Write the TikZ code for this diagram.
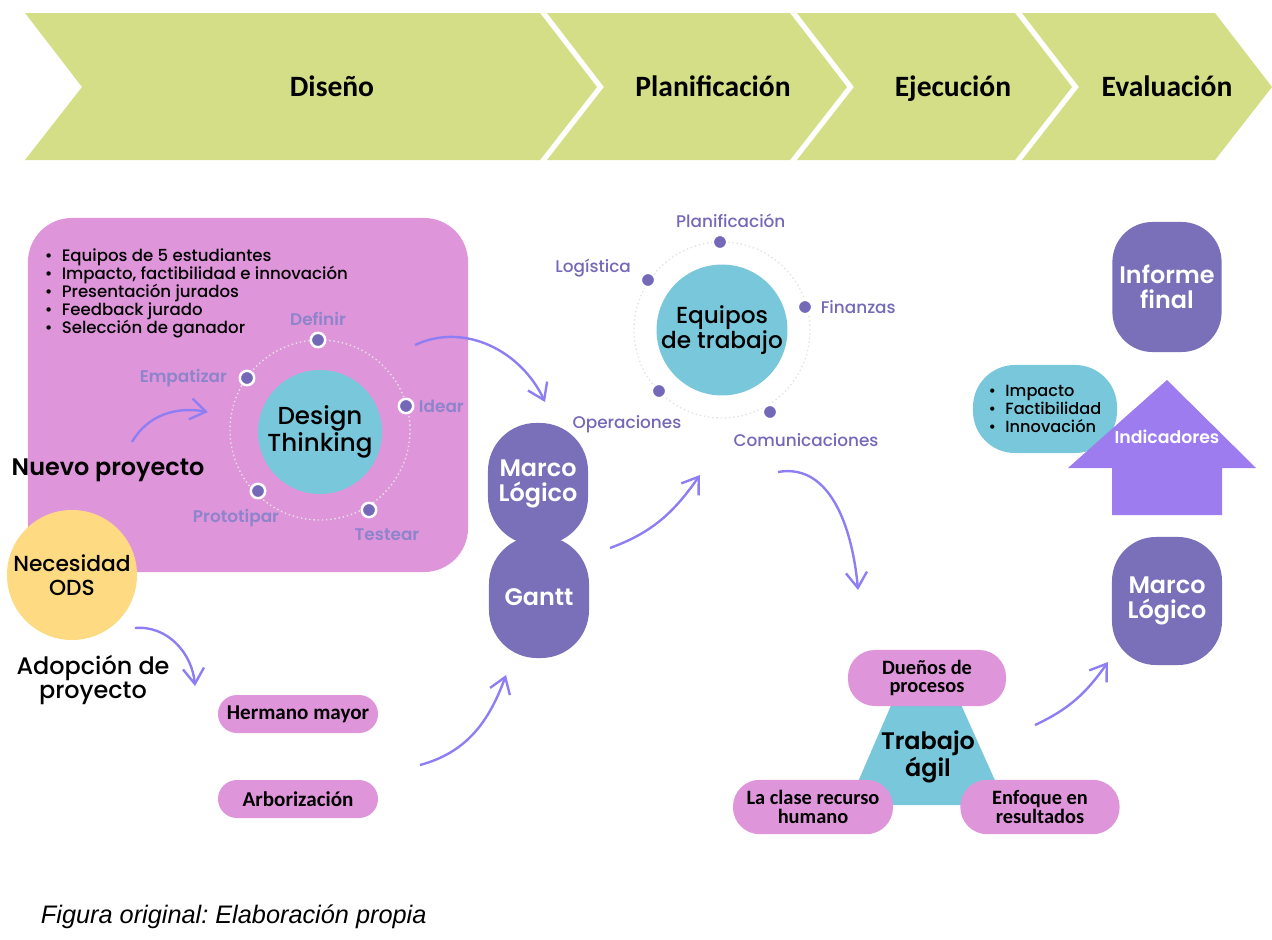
\documentclass[tikz,border=0pt]{standalone}
\usepackage{fontspec}
\setmainfont{Poppins}[UprightFont=* Medium,BoldFont=* SemiBold]
\newfontfamily\calib{Carlito}
\newfontfamily\arial{Liberation Sans}
\usetikzlibrary{positioning,arrows.meta}

\definecolor{banner}{HTML}{D3DE86}
\definecolor{pinkbox}{HTML}{DF95DA}
\definecolor{cyanfill}{HTML}{79C7DA}
\definecolor{deeppurple}{HTML}{7A6FB9}
\definecolor{violet}{HTML}{9D7CF0}
\definecolor{arrowcol}{HTML}{8D7EF3}
\definecolor{dotcol}{HTML}{7468B8}
\definecolor{softlbl}{HTML}{8E84CC}
\definecolor{sunny}{HTML}{FEDB82}

\newcommand\itm{\makebox[0.42cm][l]{\textbullet}}

\tikzset{
  stagetxt/.style={anchor=base, font=\calib\bfseries\fontsize{21}{22}\selectfont},
  panel/.style={fill=pinkbox, rounded corners=1.1cm, minimum width=11cm, minimum height=8.85cm},
  hub/.style={circle, fill=cyanfill, align=center, inner sep=0pt},
  orbit/.style={draw=gray!22, dotted, line width=1pt},
  orbdot/.style={circle, fill=dotcol, draw=white, line width=1.8pt, inner sep=0pt, minimum size=0.36cm},
  dtlbl/.style={text=softlbl, font=\bfseries\fontsize{12}{13}\selectfont, inner sep=1pt},
  eqlbl/.style={text=dotcol, font=\fontsize{12}{13}\selectfont, inner sep=1pt},
  big/.style={align=center, font=\fontsize{17}{17}\selectfont},
  sun/.style={circle, fill=sunny, align=center, minimum size=3.25cm, inner sep=0pt, font=\fontsize{15.5}{17}\selectfont},
  tag/.style={fill=pinkbox, rounded corners=0.475cm, minimum width=4cm, minimum height=0.95cm, align=center,
    font=\calib\bfseries\fontsize{15}{13}\selectfont},
  duo/.style={tag, minimum width=4cm, minimum height=1.36cm, rounded corners=0.67cm,
    font=\calib\bfseries\fontsize{14.5}{13}\selectfont},
  block/.style={fill=deeppurple, text=white, rounded corners=1.2cm, minimum width=2.5cm, minimum height=3.05cm,
    align=center, font=\bfseries\fontsize{17}{17.5}\selectfont},
  flow/.style={color=arrowcol, line width=1.7pt, -{Straight Barb[length=11pt,width=15pt]}}
}

\begin{document}
\begin{tikzpicture}[x=0.025cm,y=0.025cm]
  \useasboundingbox (0,0) rectangle (1272,-940);

  % stages
  \foreach \a/\b/\c/\t [count=\i] in {25/540/332/Diseño, 547/790/713/Planificación,
      797/1015/953/Ejecución, 1022/1215/1167/Evaluación}{
    \fill[banner] (\a,-13) -- (\b,-13) -- (\b+57,-87) -- (\b,-160) -- (\a,-160) -- (\a+57,-87) -- cycle;
    \node[stagetxt] (stage\i) at (\c,-96) {\t};
  }

  % design
  \node[panel] (dtbox) at (248,-395) {};
  \node[anchor=west, align=left, font=\fontsize{11.8}{12.8}\selectfont] (rules) at (40,-293)
    {\itm Equipos de 5 estudiantes\\ \itm Impacto, factibilidad e innovación\\ \itm Presentación jurados\\
     \itm Feedback jurado\\ \itm Selección de ganador};
  \draw[orbit] (320,-430) circle (2.25cm);
  \node[hub, minimum size=3.1cm, font=\fontsize{17.5}{17.5}\selectfont] (dt) at (320,-432) {Design\\Thinking};
  \node[orbdot] (def) at (318,-340) {};
  \node[orbdot] (emp) at (247,-378) {};
  \node[orbdot] (ide) at (406,-406) {};
  \node[orbdot] (pro) at (258,-491) {};
  \node[orbdot] (tes) at (369,-510) {};
  \node[dtlbl, above=3pt of def] {Definir};
  \node[dtlbl, left=7pt of emp] {Empatizar};
  \node[dtlbl, right=2pt of ide] {Idear};
  \node[dtlbl, below=6pt of pro, xshift=-0.55cm] {Prototipar};
  \node[dtlbl, below=6pt of tes, xshift=0.45cm] {Testear};

  \node[big, font=\bfseries\fontsize{17}{17}\selectfont] (nuevo) at (108,-470) {Nuevo proyecto};
  \node[sun] (ods) at (72,-575) {Necesidad\\ODS};
  \node[big] (adop) at (93,-680) {Adopción de\\proyecto};
  \node[tag] (hermano) at (298,-714) {Hermano mayor};
  \node[tag] (arbol) at (298,-799) {Arborización};

  % planning
  \node[block] (gantt) at (539,-597) {Gantt};
  \node[block] (marco) at (538,-484) {Marco\\Lógico};
  \draw[orbit] (722,-330) circle (2.2cm);
  \node[hub, minimum size=3.25cm, font=\fontsize{16.5}{17.5}\selectfont] (eq) at (722,-330) {Equipos\\de trabajo};
  \node[orbdot] (pla) at (720,-242) {};
  \node[orbdot] (log) at (648,-280) {};
  \node[orbdot] (fin) at (805,-307) {};
  \node[orbdot] (ope) at (659,-391) {};
  \node[orbdot] (com) at (770,-412) {};
  \node[eqlbl, above=3pt of pla, xshift=0.27cm] {Planificación};
  \node[eqlbl, left=5pt of log, yshift=0.3cm] {Logística};
  \node[eqlbl, right=4pt of fin] {Finanzas};
  \node[eqlbl, below=10pt of ope, xshift=-0.8cm] {Operaciones};
  \node[eqlbl, below=8pt of com, xshift=0.9cm] {Comunicaciones};

  % execution
  \fill[cyanfill] (902,-680) -- (950,-680) -- (1006,-805) -- (848,-805) -- cycle;
  \node[big, font=\bfseries\fontsize{17}{17}\selectfont] (agil) at (928,-757) {Trabajo\\ágil};
  \node[duo, minimum width=3.95cm, minimum height=1.4cm] (duenos) at (927,-678) {Dueños de\\procesos};
  \node[duo] (clase) at (813,-807) {La clase recurso\\humano};
  \node[duo, minimum width=3.98cm] (enfoque) at (1040,-807) {Enfoque en\\resultados};

  % evaluation
  \node[block, minimum width=2.73cm, minimum height=3.25cm, rounded corners=1cm] (informe) at (1167,-287) {Informe\\final};
  \node[fill=cyanfill, rounded corners=1.05cm, minimum width=3.6cm, minimum height=2.2cm, align=left,
    font=\fontsize{11.5}{12.8}\selectfont] (crit) at (1045,-409) {\itm Impacto\\ \itm Factibilidad\\ \itm Innovación};
  \fill[violet] (1167,-380) -- (1256,-468) -- (1222,-468) -- (1222,-515) -- (1112,-515) -- (1112,-468)
    -- (1068,-468) -- cycle;
  \node[text=white, font=\bfseries\fontsize{12.3}{13}\selectfont] (ind) at (1167,-437) {Indicadores};
  \node[block, minimum width=2.75cm, minimum height=3.2cm, rounded corners=1.1cm] (marco2) at (1167,-601) {Marco\\Lógico};

  % arrows
  \coordinate (a1s) at (132,-442);  \coordinate (a1e) at (208,-412);
  \coordinate (a2s) at (135,-628);  \coordinate (a2e) at (195,-686);
  \coordinate (a3s) at (415,-345);  \coordinate (a3e) at (545,-402);
  \coordinate (a4s) at (420,-765);  \coordinate (a4e) at (506,-675);
  \coordinate (a5s) at (610,-548);  \coordinate (a5e) at (700,-475);
  \coordinate (a6s) at (778,-472);  \coordinate (a6e) at (858,-590);
  \coordinate (a7s) at (1035,-725); \coordinate (a7e) at (1108,-662);
  \path[flow]
    (a1s) edge[out=60,in=170] (a1e)
    (a2s) edge[out=5,in=95] (a2e)
    (a3s) edge[out=25,in=115] (a3e)
    (a4s) edge[out=15,in=-110] (a4e)
    (a5s) edge[out=20,in=-125] (a5e)
    (a6s) edge[out=10,in=95] (a6e)
    (a7s) edge[out=25,in=-125] (a7e);

  \node[anchor=west, font=\arial\itshape\fontsize{18}{19}\selectfont] (cap) at (36,-917)
    {\frenchspacing Figura original: Elaboración propia};
\end{tikzpicture}
\end{document}
